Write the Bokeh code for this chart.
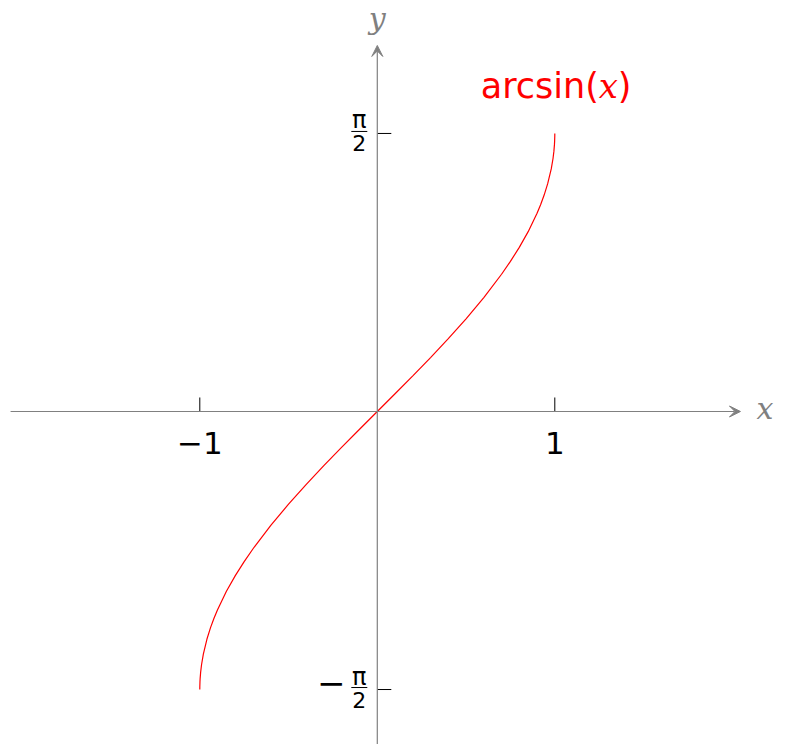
import math
from bokeh.plotting import figure
from bokeh.models import Range1d, Arrow, VeeHead, ColumnDataSource
from bokeh.core.properties import value
from bokeh.embed import file_html
from bokeh.resources import INLINE

# ---- data (y = arcsin(x)) ----
curve_x = [-1.0, -0.9999, -0.999, -0.998, -0.995, -0.99, -0.98, -0.96, -0.94, -0.92,
           -0.9, -0.85, -0.8, -0.75, -0.7, -0.6, -0.5, -0.4, -0.3, -0.2, -0.1,
           0.0, 0.1, 0.2, 0.3, 0.4, 0.5, 0.6, 0.7, 0.75, 0.8, 0.85, 0.9,
           0.92, 0.94, 0.96, 0.98, 0.99, 0.995, 0.998, 0.999, 0.9999, 1.0]
curve_y = [-1.5708, -1.5567, -1.5261, -1.5076, -1.4708, -1.4293, -1.3705, -1.2870, -1.2227, -1.1681,
           -1.1198, -1.0160, -0.9273, -0.8481, -0.7754, -0.6435, -0.5236, -0.4115, -0.3047, -0.2014, -0.1002,
           0.0, 0.1002, 0.2014, 0.3047, 0.4115, 0.5236, 0.6435, 0.7754, 0.8481, 0.9273, 1.0160, 1.1198,
           1.1681, 1.2227, 1.2870, 1.3705, 1.4293, 1.4708, 1.5076, 1.5261, 1.5567, 1.5708]

x_ticks = [-1.0, 1.0]
x_tick_labels = ["\u22121", "1"]
y_ticks = [-1.5708, 1.5708]
y_tick_signs = ["\u2212", ""]
y_tick_nums = ["\u03c0", "\u03c0"]
y_tick_dens = ["2", "2"]
curve_label_parts = ["arcsin(", "x", ")"]
x_axis_label = "x"
y_axis_label = "y"

# ---- layout ----
W, H = 790, 744
X0, X1 = -2.1228, 2.3279
Y0, Y1 = -1.8814, 2.3220
PXX = W / (X1 - X0)
PXY = H / (Y1 - Y0)
X_AX_START, X_AX_END = -2.066, 2.046
Y_AX_START, Y_AX_END = -1.95, 2.068

AX_GRAY = "#808080"
RED = "#ff0000"

p = figure(width=W, height=H, x_range=Range1d(X0, X1), y_range=Range1d(Y0, Y1),
           output_backend="svg", toolbar_location=None, min_border=0,
           x_axis_location=None, y_axis_location=None,
           background_fill_color="white", border_fill_color="white")
p.outline_line_color = None
p.xgrid.grid_line_color = None
p.ygrid.grid_line_color = None

# axes with arrow heads
p.add_layout(Arrow(x_start=X_AX_START, y_start=0, x_end=X_AX_END, y_end=0,
                   line_color=AX_GRAY, line_width=1.2,
                   end=VeeHead(size=11, fill_color=AX_GRAY, line_color=AX_GRAY, line_width=1)))
p.add_layout(Arrow(x_start=0, y_start=Y_AX_START, x_end=0, y_end=Y_AX_END,
                   line_color=AX_GRAY, line_width=1.2,
                   end=VeeHead(size=11, fill_color=AX_GRAY, line_color=AX_GRAY, line_width=1)))

# ticks
p.ray(x=x_ticks, y=[0] * len(x_ticks), length=14, length_units="screen",
      angle=math.pi / 2, line_color="black", line_width=1)
p.ray(x=[0] * len(y_ticks), y=y_ticks, length=14, length_units="screen",
      angle=0, line_color="black", line_width=1)

# x tick labels
p.text(x=x_ticks, y=[0] * len(x_ticks), text=x_tick_labels,
       text_font=value("DejaVu Sans"), text_font_size="31px", text_color="black",
       text_align="center", text_baseline="alphabetic", y_offset=32)

# y tick labels (fractions)
zeros = [0] * len(y_ticks)
p.text(x=zeros, y=y_ticks, text=y_tick_nums, text_font=value("DejaVu Sans"),
       text_font_size="24px", text_color="black", text_align="center",
       text_baseline="alphabetic", x_offset=-18, y_offset=-13)
p.text(x=zeros, y=y_ticks, text=y_tick_dens, text_font=value("DejaVu Sans"),
       text_font_size="22px", text_color="black", text_align="center",
       text_baseline="alphabetic", x_offset=-18, y_offset=10)
p.text(x=zeros, y=y_ticks, text=y_tick_signs, text_font=value("DejaVu Sans"),
       text_font_size="34px", text_color="black", text_align="center",
       text_baseline="alphabetic", x_offset=-46, y_offset=-7)
bar_src = ColumnDataSource(dict(
    x0=[-26 / PXX for _ in y_ticks], x1=[-10 / PXX for _ in y_ticks],
    y=[t + 2 / PXY for t in y_ticks]))
p.segment(x0="x0", y0="y", x1="x1", y1="y", source=bar_src,
          line_color="black", line_width=1)

# curve
p.line(curve_x, curve_y, line_color=RED, line_width=1.2)

# curve label at the end point
ex, ey = [curve_x[-1]], [curve_y[-1]]
p.text(x=ex, y=ey, text=[curve_label_parts[0]], text_font=value("DejaVu Sans"),
       text_font_size="35px", text_color=RED, text_align="right",
       text_baseline="alphabetic", x_offset=44, y_offset=-47)
p.text(x=ex, y=ey, text=[curve_label_parts[1]], text_font=value("DejaVu Serif"),
       text_font_style="italic", text_font_size="34px", text_color=RED,
       text_align="left", text_baseline="alphabetic", x_offset=44, y_offset=-47)
p.text(x=ex, y=ey, text=[curve_label_parts[2]], text_font=value("DejaVu Sans"),
       text_font_size="35px", text_color=RED, text_align="left",
       text_baseline="alphabetic", x_offset=63, y_offset=-47)

# axis labels
p.text(x=[X_AX_END], y=[0], text=[x_axis_label], text_font=value("DejaVu Serif"),
       text_font_style="italic", text_font_size="30px", text_color=AX_GRAY,
       text_align="left", text_baseline="alphabetic", x_offset=16, y_offset=-3)
p.text(x=[0], y=[Y_AX_END], text=[y_axis_label], text_font=value("DejaVu Serif"),
       text_font_style="italic", text_font_size="30px", text_color=AX_GRAY,
       text_align="center", text_baseline="alphabetic", x_offset=0, y_offset=-27)

open("out.html", "w").write(file_html(p, INLINE))
